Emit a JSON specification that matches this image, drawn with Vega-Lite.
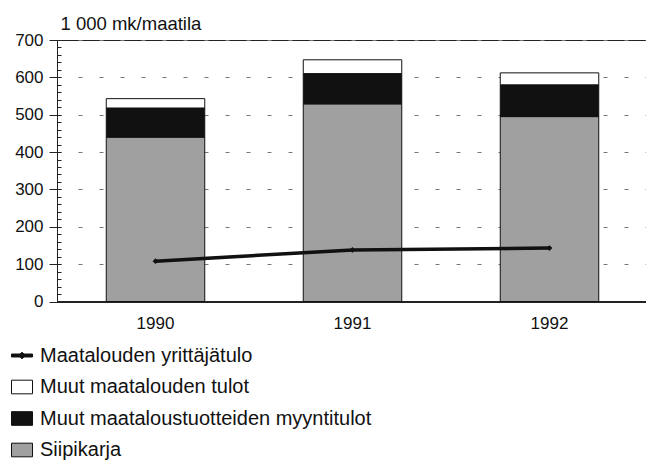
{
  "$schema": "https://vega.github.io/schema/vega-lite/v6.json",
  "width": 591,
  "height": 261.5,
  "autosize": "none",
  "padding": {"left": 57, "top": 40, "right": 0, "bottom": 159.5},
  "background": "white",
  "data": {
    "values": [
      {"year": "1990", "serie": "Siipikarja", "v": 440, "ord": 1},
      {"year": "1990", "serie": "Muut maataloustuotteiden myyntitulot", "v": 78, "ord": 2},
      {"year": "1990", "serie": "Muut maatalouden tulot", "v": 25, "ord": 3},
      {"year": "1990", "serie": "Maatalouden yrittäjätulo", "v": 108, "ord": 0},
      {"year": "1991", "serie": "Siipikarja", "v": 529, "ord": 1},
      {"year": "1991", "serie": "Muut maataloustuotteiden myyntitulot", "v": 81, "ord": 2},
      {"year": "1991", "serie": "Muut maatalouden tulot", "v": 37, "ord": 3},
      {"year": "1991", "serie": "Maatalouden yrittäjätulo", "v": 138, "ord": 0},
      {"year": "1992", "serie": "Siipikarja", "v": 495, "ord": 1},
      {"year": "1992", "serie": "Muut maataloustuotteiden myyntitulot", "v": 85, "ord": 2},
      {"year": "1992", "serie": "Muut maatalouden tulot", "v": 32, "ord": 3},
      {"year": "1992", "serie": "Maatalouden yrittäjätulo", "v": 143, "ord": 0}
    ]
  },
  "layer": [
    {
      "transform": [{"filter": "datum.serie !== 'Maatalouden yrittäjätulo'"}],
      "mark": {"type": "bar", "stroke": "#111", "strokeWidth": 1},
      "encoding": {
        "x": {
          "field": "year", "type": "ordinal",
          "scale": {"paddingInner": 0.5, "paddingOuter": 0.25},
          "axis": {"title": null, "labelAngle": 0, "ticks": false, "labelPadding": 14, "labelFontSize": 17, "labelColor": "#111", "domainColor": "#222", "domainWidth": 2}
        },
        "y": {
          "field": "v", "type": "quantitative", "stack": "zero",
          "scale": {"domain": [0, 700], "nice": false},
          "axis": {
            "orient": "left",
            "values": [0, 100, 200, 300, 400, 500, 600, 700],
            "tickSize": 8, "tickColor": "#222", "domainColor": "#222",
            "grid": true, "gridDash": [4, 17], "gridColor": "#777", "gridWidth": 1,
            "labelFontSize": 17, "labelColor": "#111", "labelPadding": 6, "labelFlush": false,
            "title": "1 000 mk/maatila", "titleAngle": 0, "titleAlign": "left", "titleBaseline": "alphabetic",
            "titleX": 3, "titleY": -11, "titleFontSize": 18.5, "titleFontWeight": "normal", "titleColor": "#111"
          }
        },
        "color": {
          "field": "serie", "type": "nominal",
          "scale": {
            "domain": ["Maatalouden yrittäjätulo", "Muut maatalouden tulot", "Muut maataloustuotteiden myyntitulot", "Siipikarja"],
            "range": ["#111111", "#ffffff", "#111111", "#a0a0a0"]
          },
          "legend": {
            "orient": "none", "legendX": -46, "legendY": 304.5,
            "title": null, "direction": "vertical", "padding": 0,
            "symbolSize": 441, "rowPadding": 10.5, "labelOffset": 7,
            "symbolStrokeColor": "#111", "symbolStrokeWidth": 1, "symbolOpacity": 1,
            "labelFontSize": 20, "labelColor": "#111", "labelLimit": 500,
            "encode": {
              "symbols": {
                "update": {
                  "stroke": {"value": "#111"},
                  "strokeWidth": {"value": 1},
                  "shape": {"signal": "datum.value === 'Maatalouden yrittäjätulo' ? 'M-1,-0.14H1V0.14H-1Z M0,-0.32L0.32,0L0,0.32L-0.32,0Z' : 'M-1,-0.65H1V0.65H-1Z'"}
                }
              }
            }
          }
        },
        "order": {"field": "ord", "type": "quantitative"}
      }
    },
    {
      "transform": [{"filter": "datum.serie === 'Maatalouden yrittäjätulo'"}],
      "mark": {"type": "line", "strokeWidth": 3.5, "stroke": "#111", "point": {"shape": "diamond", "filled": true, "size": 34, "fill": "#111"}},
      "encoding": {
        "x": {"field": "year", "type": "ordinal", "scale": {"paddingInner": 0.5, "paddingOuter": 0.25}},
        "y": {
          "field": "v", "type": "quantitative",
          "scale": {"domain": [0, 700], "nice": false},
          "axis": {
            "orient": "right", "offset": -591,
            "values": [0, 20, 40, 60, 80, 100, 120, 140, 160, 180, 200, 220, 240, 260, 280, 300, 320, 340, 360, 380, 400, 420, 440, 460, 480, 500, 520, 540, 560, 580, 600, 620, 640, 660, 680, 700],
            "tickSize": 4, "tickColor": "#222", "labels": false, "domain": false, "grid": false, "title": null
          }
        }
      }
    }
  ],
  "resolve": {"axis": {"y": "independent"}},
  "config": {
    "font": "Liberation Sans",
    "view": {"stroke": "#222", "strokeWidth": 1}
  }
}
